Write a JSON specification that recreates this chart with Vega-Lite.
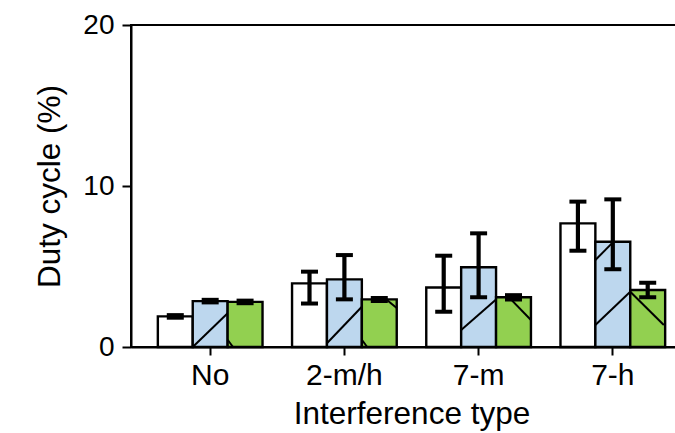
{
  "$schema": "https://vega.github.io/schema/vega-lite/v6.json",
  "width": 561,
  "height": 322,
  "autosize": "none",
  "padding": {"left": 131, "top": 25, "right": 0, "bottom": 86},
  "background": "white",
  "datasets": {
    "bars": [
      {"group": "No", "series": "A", "value": 1.9, "lo": 1.82, "hi": 1.98},
      {"group": "No", "series": "B", "value": 2.85, "lo": 2.77, "hi": 2.93},
      {"group": "No", "series": "C", "value": 2.8, "lo": 2.72, "hi": 2.88},
      {"group": "2-m/h", "series": "A", "value": 3.95, "lo": 2.7, "hi": 4.68},
      {"group": "2-m/h", "series": "B", "value": 4.2, "lo": 2.96, "hi": 5.71},
      {"group": "2-m/h", "series": "C", "value": 2.96, "lo": 2.86, "hi": 3.05},
      {"group": "7-m", "series": "A", "value": 3.7, "lo": 2.19, "hi": 5.67},
      {"group": "7-m", "series": "B", "value": 4.95, "lo": 3.09, "hi": 7.06},
      {"group": "7-m", "series": "C", "value": 3.09, "lo": 2.95, "hi": 3.22},
      {"group": "7-h", "series": "A", "value": 7.68, "lo": 5.98, "hi": 9.03},
      {"group": "7-h", "series": "B", "value": 6.54, "lo": 4.83, "hi": 9.17},
      {"group": "7-h", "series": "C", "value": 3.54, "lo": 3.09, "hi": 3.99}
    ],
    "hatch": [
      {"u1": 0.46, "v1": 0, "u2": 0.72, "v2": 2.1},
      {"u1": 0.72, "v1": 0.45, "u2": 0.76, "v2": 0},
      {"u1": 1.46, "v1": 0.23, "u2": 1.72, "v2": 2.5},
      {"u1": 1.72, "v1": 0.45, "u2": 1.76, "v2": 0},
      {"u1": 1.9, "v1": 2.96, "u2": 1.98, "v2": 2.42},
      {"u1": 2.46, "v1": 1.06, "u2": 2.72, "v2": 2.95},
      {"u1": 2.82, "v1": 3.05, "u2": 2.98, "v2": 1.68},
      {"u1": 3.46, "v1": 1.37, "u2": 3.72, "v2": 3.43},
      {"u1": 3.46, "v1": 5.4, "u2": 3.59, "v2": 6.5},
      {"u1": 3.72, "v1": 3.43, "u2": 3.97, "v2": 1.37}
    ]
  },
  "layer": [
    {
      "data": {"name": "bars"},
      "mark": {"type": "bar", "stroke": "black", "strokeWidth": 2.4},
      "encoding": {
        "x": {
          "field": "group", "type": "nominal",
          "sort": ["No", "2-m/h", "7-m", "7-h"],
          "scale": {"paddingInner": 0.22, "paddingOuter": 0.2},
          "axis": {"title": "Interference type", "labelAngle": 0, "labelFontSize": 30, "titleFontSize": 31.5, "tickSize": 8, "labelPadding": 5, "titlePadding": 8}
        },
        "xOffset": {"field": "series", "type": "nominal", "sort": ["A", "B", "C"], "scale": {"paddingInner": 0, "paddingOuter": 0}},
        "y": {
          "field": "value", "type": "quantitative",
          "scale": {"domain": [0, 20]},
          "axis": {"title": "Duty cycle (%)", "values": [0, 10, 20], "labelFontSize": 28, "titleFontSize": 31.5, "tickSize": 9, "labelPadding": 8, "titlePadding": 16, "grid": false}
        },
        "fill": {"field": "series", "type": "nominal", "scale": {"domain": ["A", "B", "C"], "range": ["#ffffff", "#BDD7EE", "#92D050"]}, "legend": null}
      }
    },
    {
      "data": {"name": "hatch"},
      "mark": {"type": "rule", "stroke": "black", "strokeWidth": 2},
      "encoding": {
        "x": {"field": "u1", "type": "quantitative", "scale": {"domain": [0, 4.18], "nice": false, "zero": false}, "axis": null},
        "x2": {"field": "u2"},
        "y": {"field": "v1", "type": "quantitative", "title": "Duty cycle (%)", "scale": {"domain": [0, 20]}},
        "y2": {"field": "v2"}
      }
    },
    {
      "data": {"name": "bars"},
      "encoding": {
        "x": {"field": "group", "type": "nominal", "sort": ["No", "2-m/h", "7-m", "7-h"], "scale": {"paddingInner": 0.22, "paddingOuter": 0.2}, "axis": null},
        "xOffset": {"field": "series", "type": "nominal", "sort": ["A", "B", "C"], "scale": {"paddingInner": 0, "paddingOuter": 0}}
      },
      "layer": [
        {
          "mark": {"type": "rule", "color": "black", "strokeWidth": 4.2},
          "encoding": {
            "y": {"field": "lo", "type": "quantitative", "title": "Duty cycle (%)"},
            "y2": {"field": "hi"}
          }
        },
        {
          "mark": {"type": "tick", "color": "black", "thickness": 4, "size": 17, "opacity": 1},
          "encoding": {"y": {"field": "lo", "type": "quantitative", "title": "Duty cycle (%)"}}
        },
        {
          "mark": {"type": "tick", "color": "black", "thickness": 4, "size": 17, "opacity": 1},
          "encoding": {"y": {"field": "hi", "type": "quantitative", "title": "Duty cycle (%)"}}
        }
      ]
    }
  ],
  "resolve": {"scale": {"x": "independent", "xOffset": "independent"}},
  "config": {
    "view": {"stroke": "black", "strokeWidth": 2},
    "axis": {
      "domainColor": "black", "domainWidth": 2,
      "tickColor": "black", "tickWidth": 2,
      "labelColor": "black", "titleColor": "black",
      "labelFont": "Liberation Sans", "titleFont": "Liberation Sans",
      "titleFontWeight": "normal"
    }
  }
}
